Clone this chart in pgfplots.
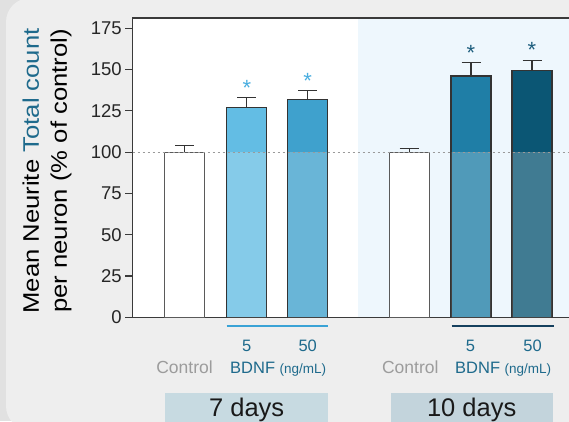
\documentclass[border=0pt]{standalone}
\usepackage{pgfplots}
\pgfplotsset{compat=1.18}
\usepackage{fontspec}
\setmainfont{Liberation Sans}
\usepackage{graphicx}

\definecolor{outerbg}{HTML}{E1E1E1}
\definecolor{cardbg}{HTML}{EEEEEE}
\definecolor{lightblue}{HTML}{EEF7FD}
\definecolor{boxA}{HTML}{C7DAE1}
\definecolor{boxB}{HTML}{C3D4DC}
\definecolor{cA}{HTML}{63BDE4}
\definecolor{cB}{HTML}{3FA1CD}
\definecolor{cC}{HTML}{1F7EA6}
\definecolor{cD}{HTML}{0B5674}
\definecolor{starA}{HTML}{4AAEE0}
\definecolor{starB}{HTML}{1E5E7E}
\definecolor{lineA}{HTML}{3AA3D6}
\definecolor{lineB}{HTML}{15405E}
\definecolor{tealtxt}{HTML}{1E6A8C}
\definecolor{graytxt}{HTML}{9C9C9C}
\definecolor{axisc}{HTML}{3A3A3A}
\definecolor{edgec}{HTML}{333333}
\definecolor{ctrledge}{HTML}{5A5A5A}
\definecolor{dashc}{HTML}{9A9A9A}

\pgfplotsset{
  mybar/.style={ybar, bar width=40pt, bar shift=0pt, line width=1.2pt,
    error bars/y dir=plus, error bars/y explicit,
    error bars/error bar style={line width=1.2pt, color=edgec},
    error bars/error mark options={rotate=90, mark size=9.5pt, line width=1.2pt, color=edgec}},
}

\begin{document}
\begin{tikzpicture}
\path[use as bounding box] (0pt,0pt) rectangle (569pt,421pt);
\begin{scope}
\clip (0pt,0pt) rectangle (569pt,421pt);
\fill[outerbg] (0pt,0pt) rectangle (569pt,421pt);
\fill[cardbg, rounded corners=24pt] (6pt,-9pt) rectangle (640pt,423pt);
\fill[white] (132.5pt,103.7pt) rectangle (358pt,403pt);
\fill[lightblue] (358pt,103.7pt) rectangle (640pt,403pt);
% group boxes
\fill[boxA] (165pt,-5pt) rectangle (328.3pt,28.3pt);
\fill[boxB] (390.7pt,-5pt) rectangle (552.7pt,28.3pt);
\node[font=\fontsize{25.5}{25.5}\selectfont, anchor=base, text=black!90, inner sep=0pt] at (246.7pt,4.5pt) {7 days};
\node[font=\fontsize{25.5}{25.5}\selectfont, anchor=base, text=black!90, inner sep=0pt] at (471.7pt,4.5pt) {10 days};
% group lines
\draw[lineA, line width=2pt] (226.7pt,95.3pt) -- (328.3pt,95.3pt);
\draw[lineB, line width=2pt] (451.7pt,95.3pt) -- (554pt,95.3pt);
% category labels
\node[font=\fontsize{16.5}{16.5}\selectfont, anchor=base, text=tealtxt, inner sep=0pt] at (246.7pt,70pt) {5};
\node[font=\fontsize{16.5}{16.5}\selectfont, anchor=base, text=tealtxt, inner sep=0pt] at (307.7pt,70pt) {50};
\node[font=\fontsize{16.5}{16.5}\selectfont, anchor=base, text=tealtxt, inner sep=0pt] at (470.5pt,70pt) {5};
\node[font=\fontsize{16.5}{16.5}\selectfont, anchor=base, text=tealtxt, inner sep=0pt] at (532.5pt,70pt) {50};
\node[font=\fontsize{17.5}{17.5}\selectfont, anchor=base, text=graytxt, inner sep=0pt] at (184.5pt,47.7pt) {Control};
\node[font=\fontsize{17.5}{17.5}\selectfont, anchor=base, text=graytxt, inner sep=0pt] at (410.3pt,47.7pt) {Control};
\node[font=\fontsize{16.5}{16.5}\selectfont, anchor=base west, text=tealtxt, inner sep=0pt] at (230pt,47.7pt) {BDNF {\fontsize{13.5}{13.5}\selectfont(ng/mL)}};
\node[font=\fontsize{16.5}{16.5}\selectfont, anchor=base west, text=tealtxt, inner sep=0pt] at (455pt,47.7pt) {BDNF {\fontsize{13.5}{13.5}\selectfont(ng/mL)}};
% y label
\node[rotate=90, anchor=center, align=center, font=\fontsize{22.5}{28}\selectfont, inner sep=0pt] at (47pt,250pt)
  {\scalebox{1.14}[1]{Mean Neurite \textcolor{tealtxt}{Total count}}\\\scalebox{1.14}[1]{per neuron (\% of control)}};

\begin{axis}[
  at={(132.5pt,103.7pt)}, anchor=south west,
  scale only axis, width=467.5pt, height=299.3pt,
  xmin=132.5, xmax=600, ymin=0, ymax=181.2,
  axis line style={color=axisc, line width=1.3pt},
  ytick={0,25,...,175}, xtick=\empty,
  ytick pos=left, tick align=outside, major tick length=7.3pt,
  tick style={color=axisc, line width=1.2pt},
  yticklabel style={font=\fontsize{18.5}{18.5}\selectfont, text=black!85},
  /pgf/number format/assume math mode=true,
]
% control bars
\addplot[mybar, fill=white, draw=ctrledge] coordinates {(184.8,100) +- (0,3.9) (409.2,100) +- (0,2.3)};
% BDNF bars
\addplot[mybar, fill=cA, draw=edgec] coordinates {(246.8,127.0) +- (0,6.2)};
\addplot[mybar, fill=cB, draw=edgec] coordinates {(307.6,132.0) +- (0,5.2)};
\addplot[mybar, fill=cC, draw=edgec] coordinates {(471.0,146.1) +- (0,8.3)};
\addplot[mybar, fill=cD, draw=edgec] coordinates {(532.0,149.3) +- (0,6.3)};
% lighter lower part (below control level)
\addplot[ybar, bar width=38.8pt, bar shift=0pt, fill=white, fill opacity=0.22, draw=none]
  coordinates {(246.8,100) (307.6,100) (471.0,100) (532.0,100)};
% reference line at 100
\addplot[dashc, line width=0.8pt, dash pattern=on 2.5pt off 2.5pt] coordinates {(132.5,100) (600,100)};
% significance asterisks
\addplot[only marks, mark=none, nodes near coords={*},
  every node near coord/.style={anchor=base, yshift=-12.5pt, inner sep=0pt, text=starA, font=\fontsize{22}{22}\selectfont}]
  coordinates {(246.8,142.1) (307.6,146.3)};
\addplot[only marks, mark=none, nodes near coords={*},
  every node near coord/.style={anchor=base, yshift=-12.5pt, inner sep=0pt, text=starB, font=\fontsize{22}{22}\selectfont}]
  coordinates {(471.0,163.3) (532.0,164.9)};
\end{axis}
\end{scope}
\end{tikzpicture}
\end{document}
